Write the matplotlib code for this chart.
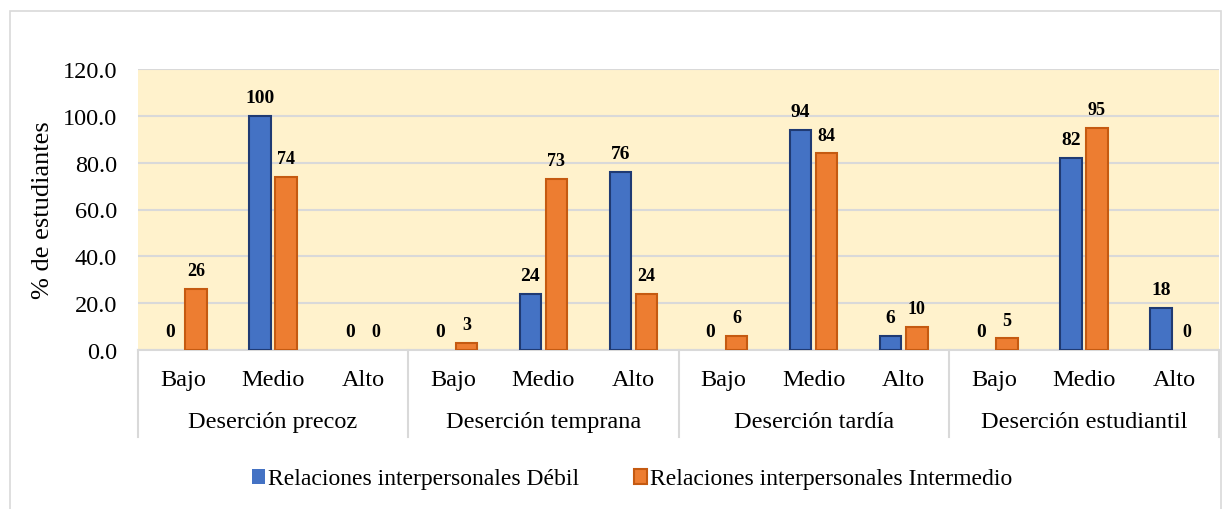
import numpy as np
import matplotlib
matplotlib.use("Agg")
import matplotlib.pyplot as plt
from matplotlib.patches import Rectangle

plt.rcParams['font.family'] = 'serif'
plt.rcParams['font.serif'] = ['Liberation Serif', 'Times New Roman', 'DejaVu Serif']

# datos
grupos = ['Deserción precoz', 'Deserción temprana', 'Deserción tardía', 'Deserción estudiantil']
niveles = ['Bajo', 'Medio', 'Alto']
debil = [0, 100, 0, 0, 24, 76, 0, 94, 6, 0, 82, 18]
intermedio = [26, 74, 0, 3, 73, 24, 6, 84, 10, 5, 95, 0]
series = ['Relaciones interpersonales Débil', 'Relaciones interpersonales Intermedio']

azul, azul_borde = '#4472C4', '#1F3A73'
naranja, naranja_borde = '#ED7D31', '#C55A11'
gris = '#D9D9D9'

fig = plt.figure(figsize=(12.27, 5.10), dpi=100)
ax = fig.add_axes([138/1227, 1-351/510, (1219-138)/1227, (351-70)/510])

n = len(debil)
x = np.arange(n)
w = 0.24
off = 0.145

ax.set_facecolor('#FFF2CC')
b1 = ax.bar(x - off, debil, w, color=azul, edgecolor=azul_borde, linewidth=1.5, zorder=3, label=series[0])
b2 = ax.bar(x + off, intermedio, w, color=naranja, edgecolor=naranja_borde, linewidth=1.5, zorder=3, label=series[1])

for bars, fs in ((b1, 14), (b2, 13)):
    for b in bars:
        if b.get_height() == 0:
            b.set_linewidth(0)
        ax.annotate('%d' % round(b.get_height()), (b.get_x() + b.get_width()/2, b.get_height()),
                    xytext=(0, 7), textcoords='offset points', ha='center', va='bottom',
                    fontsize=fs, fontweight='bold', zorder=4)

ax.set_xlim(-0.5, n - 0.5)
ax.set_ylim(0, 120)
ax.set_yticks(np.arange(0, 121, 20))
ax.set_yticklabels(['%.1f' % v for v in np.arange(0, 121, 20)], fontsize=17.5)
ax.yaxis.grid(True, color=gris, linewidth=1.5, zorder=0)
ax.set_axisbelow(True)
ax.tick_params(axis='y', length=0, pad=15)
ax.tick_params(axis='x', length=0, pad=14)
ax.set_xticks(x)
ax.set_xticklabels(niveles * len(grupos), fontsize=17.5)
for s in ['top', 'right', 'left']:
    ax.spines[s].set_visible(False)
ax.spines['bottom'].set_color(gris)
ax.spines['bottom'].set_linewidth(1.5)

ax.set_ylabel('% de estudiantes', fontsize=19, labelpad=6)

# etiquetas de grupo y separadores
trans = ax.get_xaxis_transform()
for i, g in enumerate(grupos):
    ax.text(i*3 + 1, -0.255, g, transform=trans, ha='center', va='center', fontsize=17.5)
for k in range(len(grupos) + 1):
    ax.plot([k*3 - 0.5, k*3 - 0.5], [0, -0.31], transform=trans, color=gris,
            linewidth=1.5, clip_on=False)

fig.legend(handles=[b1, b2], loc='center', bbox_to_anchor=(632/1227, 1-480/510), ncol=2,
           frameon=False, fontsize=17, handlelength=0.55, handleheight=0.6,
           handletextpad=0.15, columnspacing=2.3)

fig.patches.append(Rectangle((10/1227, -0.01), (1221-10)/1227, 1-12/510 + 0.01,
                             transform=fig.transFigure, fill=False, edgecolor=gris, linewidth=1.2))

fig.savefig('out.png', dpi=100)
